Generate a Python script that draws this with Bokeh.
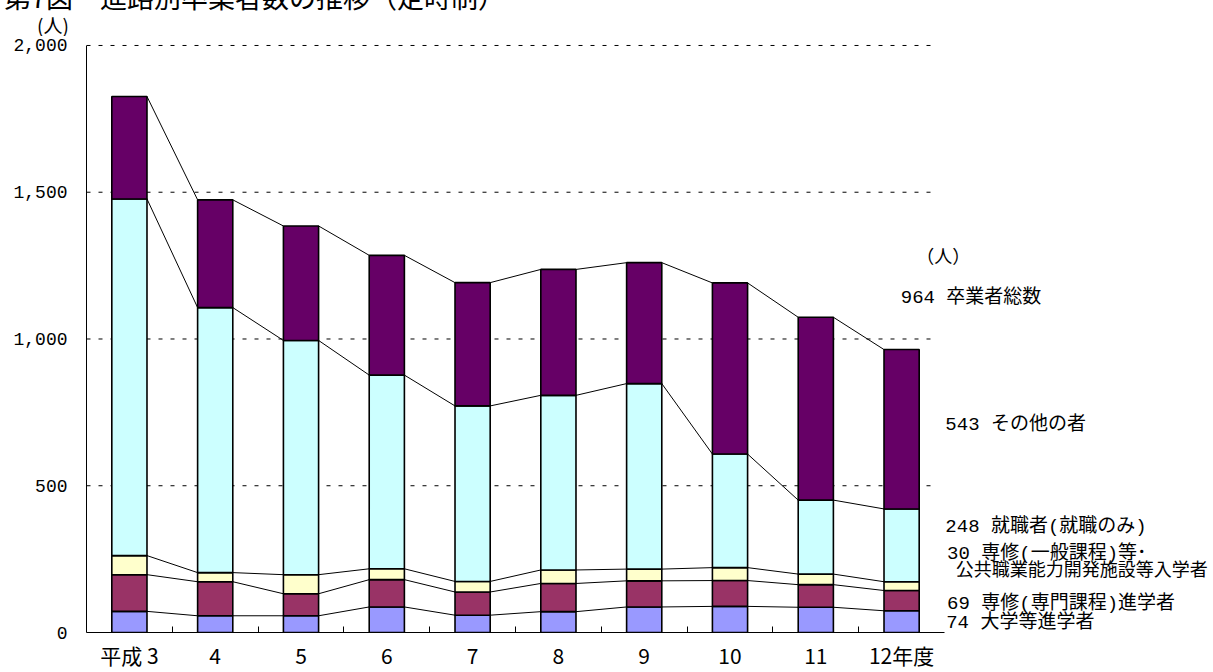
import numpy as np
from bokeh.plotting import figure
from bokeh.layouts import column
from bokeh.models import ColumnDataSource, Range1d, FixedTicker, Label, Div
from bokeh.embed import file_html
from bokeh.resources import INLINE

# ---- data ----
years = ["平成 3", "4", "5", "6", "7", "8", "9", "10", "11", "12年度"]
univ = [72, 57, 57, 87, 59, 71, 87, 89, 86, 74]            # 大学等進学者
senmon = [125, 116, 75, 93, 79, 96, 89, 88, 77, 69]        # 専修(専門課程)進学者
ippan = [65, 31, 65, 37, 36, 46, 40, 44, 36, 30]           # 専修(一般課程)等・公共職業能力開発施設等入学者
shushoku = [1215, 903, 798, 660, 598, 595, 632, 387, 252, 248]  # 就職者(就職のみ)
sonota = [349, 367, 390, 408, 420, 429, 412, 583, 623, 543]     # その他の者
y_ticks = [0, 500, 1000, 1500, 2000]
y_tick_labels = ["0", "500", "1,000", "1,500", "2,000"]
title_text = "第7図　進路別卒業者数の推移（定時制）"
unit_text = "(人)"

series = ["univ", "senmon", "ippan", "shushoku", "sonota"]
colors = ["#9999FF", "#993366", "#FFFFCC", "#CCFFFF", "#660066"]

n = len(years)
xc = np.arange(n) + 0.5
bw = 0.41
y_max = y_ticks[-1]

# layout geometry (pixels)
TOTAL_W, TOTAL_H = 1213, 672
HEAD_H = 36                      # header strip (title + unit)
W, H = TOTAL_W, TOTAL_H - HEAD_H
left_b, bottom_b = 86, 38
plot_px_w = 858                  # width covering the ten categories
plot_px_h = 589                  # height covering 0..2000
frame_h = H - bottom_b
x_end = n * (W - left_b) / plot_px_w
y_end = y_max * frame_h / plot_px_h

src = ColumnDataSource(dict(x=xc, univ=univ, senmon=senmon, ippan=ippan,
                            shushoku=shushoku, sonota=sonota))

MONO = "Liberation Mono, Noto Sans CJK JP"
JP = "Noto Sans CJK JP"
css_jp = "font-family:'Noto Sans CJK JP';color:black;white-space:nowrap;position:absolute;"

header = Div(width=TOTAL_W, height=HEAD_H, styles={"overflow": "hidden", "margin": "0"},
             text=(
                 f'<div style="position:relative;width:{TOTAL_W}px;height:{HEAD_H}px;overflow:hidden;">'
                 f'<div style="{css_jp}left:4px;top:-17px;font-size:27px;line-height:27px;">{title_text}</div>'
                 f'<div style="{css_jp}left:37px;top:15px;font-size:19px;line-height:19px;">{unit_text}</div>'
                 f'</div>'))

p = figure(width=W, height=H, output_backend="svg", toolbar_location=None,
           x_range=Range1d(0, x_end), y_range=Range1d(0, y_end),
           min_border_left=left_b, min_border_right=0, min_border_top=0,
           min_border_bottom=bottom_b)
p.outline_line_color = None
p.background_fill_color = "white"
p.border_fill_color = "white"
p.xgrid.grid_line_color = None
p.ygrid.grid_line_color = None

# dashed horizontal gridlines (over the category area only)
gy = y_ticks[1:]
p.segment(x0=[0] * len(gy), x1=[n - 0.14] * len(gy), y0=gy, y1=gy,
          line_color="black", line_width=1, line_dash="4 8")

# connecting lines between stacked bar tops
cum = np.cumsum(np.array([univ, senmon, ippan, shushoku, sonota]), axis=0)
x0s, x1s, y0s, y1s = [], [], [], []
for lvl in cum:
    x0s += list(xc[:-1] + bw / 2)
    x1s += list(xc[1:] - bw / 2)
    y0s += list(lvl[:-1])
    y1s += list(lvl[1:])
p.segment(x0=x0s, y0=y0s, x1=x1s, y1=y1s, line_color="black", line_width=1)

p.vbar_stack(series, x="x", width=bw, source=src, fill_color=colors,
             line_color="black", line_width=1.6)

# axes
p.xaxis.bounds = (0, n)
p.xaxis.axis_label = None
p.xaxis.ticker = FixedTicker(ticks=list(xc), minor_ticks=list(np.arange(1, n)))
p.xaxis.major_label_overrides = {float(x): y for x, y in zip(xc, years)}
p.xaxis.major_tick_line_color = None
p.xaxis.major_tick_in = 0
p.xaxis.major_tick_out = 0
p.xaxis.minor_tick_in = 6
p.xaxis.minor_tick_out = 0
p.xaxis.minor_tick_line_color = "black"
p.xaxis.axis_line_color = "black"
p.xaxis.major_label_text_font = JP
p.xaxis.major_label_text_font_size = "21px"
p.xaxis.major_label_text_color = "black"
p.xaxis.major_label_standoff = 7

p.yaxis.bounds = (0, y_max)
p.yaxis.axis_label = None
p.yaxis.ticker = FixedTicker(ticks=y_ticks)
p.yaxis.major_label_overrides = {t: s for t, s in zip(y_ticks, y_tick_labels)}
p.yaxis.major_tick_line_color = None
p.yaxis.major_tick_in = 0
p.yaxis.major_tick_out = 0
p.yaxis.minor_tick_line_color = None
p.yaxis.axis_line_color = "black"
p.yaxis.major_label_text_font = MONO
p.yaxis.major_label_text_font_size = "18px"
p.yaxis.major_label_text_color = "black"
p.yaxis.major_label_standoff = 19

# right-hand annotations
total = cum[-1]
right = [
    (9.67, 1277, "（人）", "18px"),
    (9.49, 1141, f"{total[-1]} 卒業者総数", "19px"),
    (10.01, 706, f"{sonota[-1]} その他の者", "19px"),
    (10.01, 360, f"{shushoku[-1]} 就職者(就職のみ)", "19px"),
    (10.03, 268, f"{ippan[-1]} 専修(一般課程)等･", "19px"),
    (10.13, 211, "公共職業能力開発施設等入学者", "18px"),
    (10.03, 97, f"{senmon[-1]} 専修(専門課程)進学者", "19px"),
    (10.02, 34, f"{univ[-1]} 大学等進学者", "19px"),
]
for x, y, t, fs in right:
    p.add_layout(Label(x=x, y=y, text=t, text_font=MONO,
                       text_font_size=fs, text_baseline="middle", text_color="black"))

layout = column(header, p, spacing=0)
open("out.html", "w").write(file_html(layout, INLINE))
